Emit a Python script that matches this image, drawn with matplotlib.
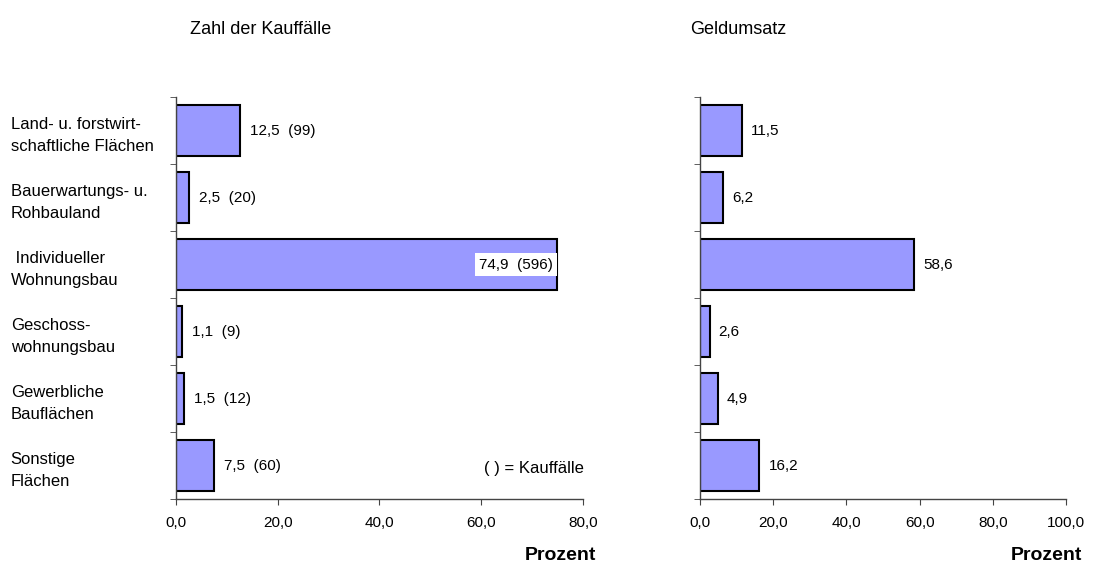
import matplotlib
matplotlib.use("Agg")
import matplotlib.pyplot as plt
import numpy as np

plt.rcParams['font.family'] = ['Liberation Sans', 'DejaVu Sans']

### Data
categories = ["Land- u. forstwirt-\nschaftliche Flächen",
              "Bauerwartungs- u.\nRohbauland",
              " Individueller\nWohnungsbau",
              "Geschoss-\nwohnungsbau",
              "Gewerbliche\nBauflächen",
              "Sonstige\nFlächen"]
kauffaelle_pct = [12.5, 2.5, 74.9, 1.1, 1.5, 7.5]
kauffaelle_n = [99, 20, 596, 9, 12, 60]
geldumsatz_pct = [11.5, 6.2, 58.6, 2.6, 4.9, 16.2]
left_ticks = [0, 20, 40, 60, 80]
right_ticks = [0, 20, 40, 60, 80, 100]

bar_color = '#9999FF'

def fmt(v):
    return f"{v:.1f}".replace('.', ',')

fig = plt.figure(figsize=(10.95, 5.69), dpi=100)
ax1 = fig.add_axes([0.1607, 0.123, 0.3717, 0.7065])
ax2 = fig.add_axes([0.6393, 0.123, 0.3342, 0.7065])

y = np.arange(len(categories))

def style_axis(ax, ticks, xmax):
    ax.set_xlim(0, xmax)
    ax.set_ylim(len(categories) - 0.5, -0.5)
    ax.spines['top'].set_visible(False)
    ax.spines['right'].set_visible(False)
    for s in ['left', 'bottom']:
        ax.spines[s].set_color('#444444')
        ax.spines[s].set_linewidth(1.0)
    ax.set_xticks(ticks)
    ax.set_xticklabels([fmt(t) for t in ticks], fontsize=11)
    ax.tick_params(axis='x', length=4, color='#444444', pad=8)
    ax.set_yticks(np.arange(len(categories) + 1) - 0.5, minor=True)
    ax.tick_params(axis='y', which='minor', length=4, color='#444444')
    ax.set_yticks(y)

# left panel: Zahl der Kauffälle
ax1.barh(y, kauffaelle_pct, height=0.77, color=bar_color, edgecolor='black', linewidth=1.5)
style_axis(ax1, left_ticks, 80)
ax1.set_yticklabels(categories, fontsize=12, ha='left', linespacing=1.55)
ax1.tick_params(axis='y', which='major', length=0, pad=119)
for yi, v, n in zip(y, kauffaelle_pct, kauffaelle_n):
    label = f"{fmt(v)}  ({n})"
    if v > 60:
        ax1.text(v - 0.8, yi, label, ha='right', va='center', fontsize=11,
                 bbox=dict(facecolor='white', edgecolor='none', pad=3))
    else:
        ax1.text(v + 2, yi, label, ha='left', va='center', fontsize=11)
ax1.text(0.757, 0.075, "( ) = Kauffälle", transform=ax1.transAxes, fontsize=12, va='center')

# right panel: Geldumsatz
ax2.barh(y, geldumsatz_pct, height=0.77, color=bar_color, edgecolor='black', linewidth=1.5)
style_axis(ax2, right_ticks, 100)
ax2.set_yticklabels([])
ax2.tick_params(axis='y', which='major', length=0)
for yi, v in zip(y, geldumsatz_pct):
    ax2.text(v + 2.5, yi, fmt(v), ha='left', va='center', fontsize=11)

# titles and axis labels
fig.text(190 / 1095, 1 - 30 / 569, "Zahl der Kauffälle", fontsize=13, va='center')
fig.text(690 / 1095, 1 - 30 / 569, "Geldumsatz", fontsize=13, va='center')
fig.text(596 / 1095, 1 - 556 / 569, "Prozent", fontsize=14, fontweight='bold', ha='right', va='center')
fig.text(1082 / 1095, 1 - 556 / 569, "Prozent", fontsize=14, fontweight='bold', ha='right', va='center')

fig.savefig("out.png", dpi=100)
